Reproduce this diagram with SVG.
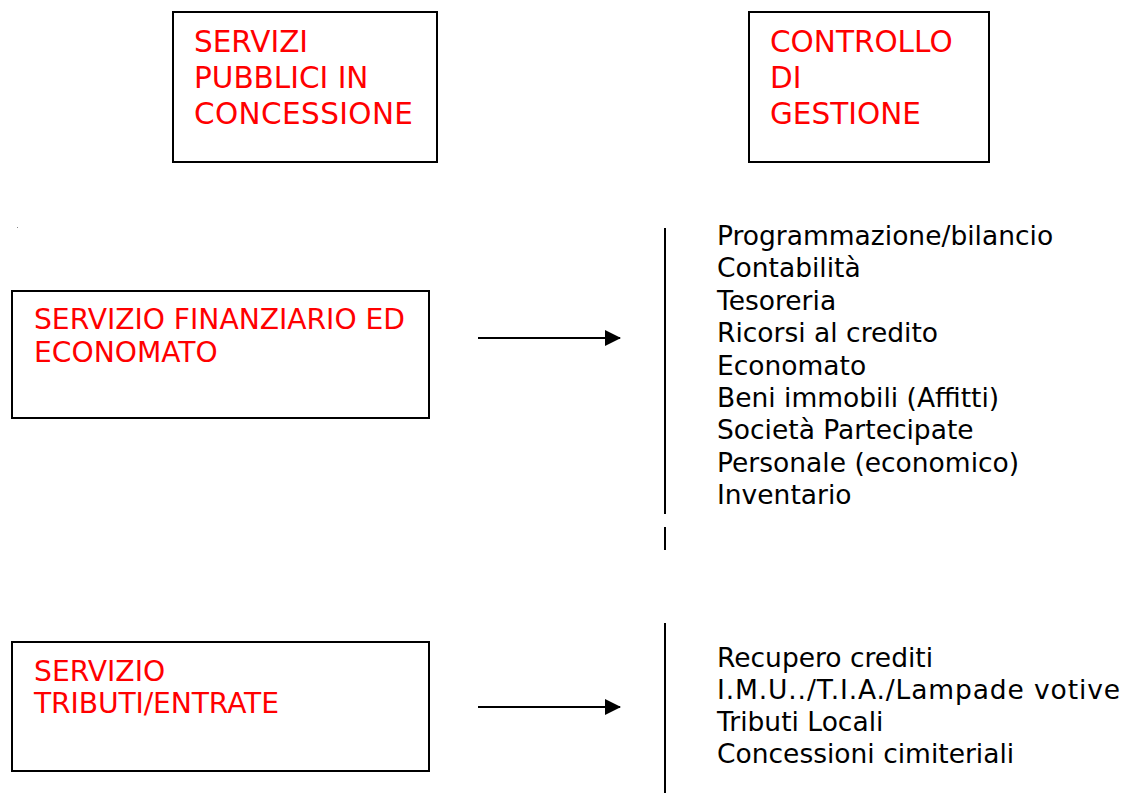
<svg xmlns="http://www.w3.org/2000/svg" width="1126" height="793" viewBox="0 0 1126 793">
  <style>
    .box { fill: #ffffff; stroke: #000000; stroke-width: 2; }
    .red { fill: #ff0000; font-family: "DejaVu Sans", Verdana, sans-serif; }
    .big { font-size: 29.5px; }
    .mid { font-size: 28.2px; }
    .list { fill: #000000; font-family: "DejaVu Sans", Verdana, sans-serif; font-size: 26.5px; }
    .conn { stroke: #000000; stroke-width: 2; fill: none; }
  </style>
  <defs>
    <marker id="arrow" markerWidth="16" markerHeight="16" refX="15" refY="8" orient="auto" markerUnits="userSpaceOnUse">
      <path d="M0,0 L16,8 L0,16 Z" fill="#000000"/>
    </marker>
  </defs>

  <rect width="1126" height="793" fill="#ffffff"/>
  <rect x="17" y="227" width="1" height="1" fill="#888888"/>

  <g id="servizi-pubblici">
    <rect class="box" x="173" y="12" width="264" height="150"/>
    <text class="red big" x="194" y="52">SERVIZI</text>
    <text class="red big" x="194" y="88">PUBBLICI IN</text>
    <text class="red big" x="194" y="124" textLength="219">CONCESSIONE</text>
  </g>

  <g id="controllo-gestione">
    <rect class="box" x="749" y="12" width="240" height="150"/>
    <text class="red big" x="770" y="52">CONTROLLO</text>
    <text class="red big" x="770" y="88">DI</text>
    <text class="red big" x="770" y="124">GESTIONE</text>
  </g>

  <g id="servizio-finanziario">
    <rect class="box" x="12" y="291" width="417" height="127"/>
    <text class="red mid" x="34" y="329" textLength="371">SERVIZIO FINANZIARIO ED</text>
    <text class="red mid" x="34" y="362">ECONOMATO</text>
  </g>

  <g id="servizio-tributi">
    <rect class="box" x="12" y="642" width="417" height="129"/>
    <text class="red mid" x="34" y="681">SERVIZIO</text>
    <text class="red mid" x="34" y="713" textLength="245">TRIBUTI/ENTRATE</text>
  </g>

  <g id="elenco-finanziario">
    <text class="list" x="717" y="245">Programmazione/bilancio</text>
    <text class="list" x="717" y="277">Contabilità</text>
    <text class="list" x="717" y="310">Tesoreria</text>
    <text class="list" x="717" y="342">Ricorsi al credito</text>
    <text class="list" x="717" y="375">Economato</text>
    <text class="list" x="717" y="407">Beni immobili (Affitti)</text>
    <text class="list" x="717" y="439">Società Partecipate</text>
    <text class="list" x="717" y="472">Personale (economico)</text>
    <text class="list" x="717" y="504">Inventario</text>
  </g>

  <g id="elenco-tributi">
    <text class="list" x="717" y="667">Recupero crediti</text>
    <text class="list" x="717" y="699" textLength="403">I.M.U../T.I.A./Lampade votive</text>
    <text class="list" x="717" y="731">Tributi Locali</text>
    <text class="list" x="717" y="763">Concessioni cimiteriali</text>
  </g>

  <g id="connectors">
    <line class="conn" x1="478" y1="338" x2="620" y2="338" marker-end="url(#arrow)"/>
    <line class="conn" x1="478" y1="707" x2="620" y2="707" marker-end="url(#arrow)"/>
    <line class="conn" x1="665" y1="228" x2="665" y2="514"/>
    <line class="conn" x1="665" y1="527" x2="665" y2="550"/>
    <line class="conn" x1="665" y1="623" x2="665" y2="793"/>
  </g>
</svg>
